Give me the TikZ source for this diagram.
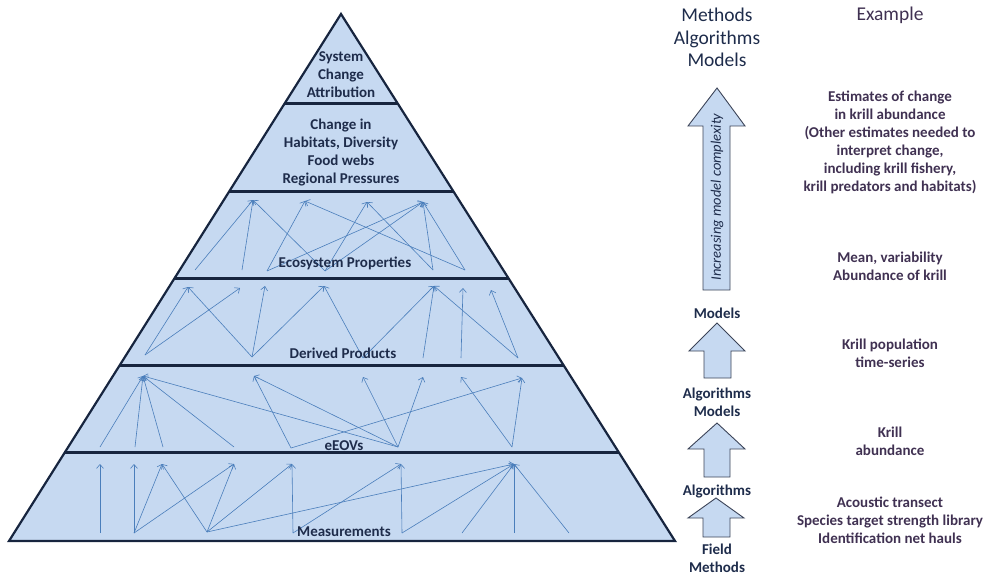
\documentclass[tikz,border=0pt]{standalone}
\usepackage{fontspec}
\setmainfont{Carlito}
\usetikzlibrary{arrows.meta,calc}
\definecolor{layerfill}{RGB}{198,217,241}
\definecolor{edgenavy}{RGB}{23,37,63}
\definecolor{flowblue}{RGB}{74,126,187}
\definecolor{labelnavy}{RGB}{30,44,75}
\definecolor{examplepurple}{RGB}{64,49,82}
\definecolor{arrowedge}{RGB}{60,68,88}

\begin{document}
\begin{tikzpicture}[x=1pt,y=-1pt,
  flow/.style={draw=flowblue,line width=0.6pt,-{Straight Barb[length=4pt,width=7pt]}},
  tierlabel/.style={text=labelnavy,font=\fontsize{15}{18}\selectfont\bfseries,align=center,inner sep=0pt},
  methodlabel/.style={text=labelnavy,font=\fontsize{15}{18}\selectfont\bfseries,align=center,inner sep=0pt},
  examplelabel/.style={text=examplepurple,font=\fontsize{15}{18}\selectfont\bfseries,align=center,inner sep=0pt},
  heading/.style={font=\fontsize{19.5}{22.5}\selectfont,align=center,inner sep=0pt},
  blockarrow/.style={fill=layerfill,draw=arrowedge,line width=0.9pt,line join=miter},
  separator/.style={draw=edgenavy,line width=3pt}
]
\useasboundingbox (0,0) rectangle (988,575);

% ---------- pyramid ----------
\coordinate (apex) at (341,14);
\coordinate (bl) at (9,541);
\coordinate (br) at (675,541);
\fill[layerfill] (apex) -- (bl) -- (br) -- cycle;

\foreach \f [count=\i] in {0.1689,0.3359,0.5010,0.6679,0.8330}{
  \coordinate (sl\i) at ($(apex)!\f!(bl)$);
  \coordinate (sr\i) at ($(apex)!\f!(br)$);
}

% ---------- Ecosystem Properties links ----------
\foreach \n/\x/\y in {1/253/200,2/305/201,3/367/202,4/423/202}
  \coordinate (pt\n) at (\x,\y);
\foreach \n/\x/\y in {1/195/270,2/242/270,3/267/271,4/325/271,5/433/270,6/465/270}
  \coordinate (pb\n) at (\x,\y);
\foreach \b/\t in {1/1,2/1,4/1,3/2,6/2,4/3,5/3,3/4,4/4,5/4,6/4}
  \draw[flow] (pb\b) -- (pt\t);

% ---------- Derived Products links ----------
\foreach \n/\x/\y in {1/188/287,2/240/288,3/265/286,4/324/286,5/434/286,6/463/288,7/491/290}
  \coordinate (dt\n) at (\x,\y);
\foreach \n/\x/\y in {1/145/355,2/252/357,3/363/358,4/423/358,5/461/358,6/518/358}
  \coordinate (db\n) at (\x,\y);
\foreach \b/\t in {1/1,1/2,2/1,2/3,2/4,3/4,3/5,4/5,5/6,6/5,6/7}
  \draw[flow] (db\b) -- (dt\t);

% ---------- eEOV links ----------
\foreach \n/\x/\y in {1/143/376,2/254/376,3/363/377,4/423/377,5/461/377,6/522/378}
  \coordinate (vt\n) at (\x,\y);
\foreach \n/\x/\y in {1/100/447,2/135/447,3/163/447,4/234/447,5/291/448,6/398/447,7/512/447}
  \coordinate (vb\n) at (\x,\y);
\foreach \b/\t in {1/1,2/1,3/1,4/1,6/1,5/2,6/2,5/6,6/3,6/4,7/5,7/6}
  \draw[flow] (vb\b) -- (vt\t);

% ---------- Measurement links ----------
\foreach \n/\x/\y in {1/100/464,2/134/464,3/162/464,4/234/464,5/292/464,6/401/464,7/514/464}
  \coordinate (mt\n) at (\x,\y);
\foreach \n/\x/\y in {1/100/533,2/134/533,3/207/532,4/293/533,5/402/533,6/462/533,7/514/533,8/569/533}
  \coordinate (mb\n) at (\x,\y);
\foreach \b/\t in {1/1,2/2,2/3,2/4,3/3,3/4,3/5,3/7,4/5,4/6,5/6,5/7,6/7,7/7,8/7}
  \draw[flow] (mb\b) -- (mt\t);

% tier separators and outline
\foreach \i in {1,...,5}
  \draw[separator] (sl\i) -- (sr\i);
\draw[draw=edgenavy,line width=2.2pt,line join=miter] (apex) -- (bl) -- (br) -- cycle;

% tier labels
\node[tierlabel] (sca) at (341,75) {System\\Change\\Attribution};
\node[tierlabel] (chg) at (341,153) {Change in\\Habitats, Diversity\\Food webs\\Regional Pressures};
\node[tierlabel] (eco) at (345,263) {Ecosystem Properties};
\node[tierlabel] (der) at (343,353) {Derived Products};
\node[tierlabel] (eov) at (344,446) {eEOVs};
\node[tierlabel] (mea) at (344,532) {Measurements};

% ---------- right-hand columns ----------
\node[heading,text=labelnavy] (mhead) at (717,37.5) {Methods\\Algorithms\\Models};
\node[heading,text=examplepurple] (ehead) at (890,15) {Example};

% complexity arrow
\draw[blockarrow] (717,88) -- (745,126) -- (730,126) -- (730,290) -- (703,290) -- (703,126) -- (688,126) -- cycle;
\node[rotate=90,text=labelnavy,font=\fontsize{14.5}{17}\selectfont\itshape,inner sep=0pt] (cplx) at (717,197) {Increasing model complexity};

\node[methodlabel] (mod) at (717,313) {Models};
\node[methodlabel] (algmod) at (717,402) {Algorithms\\Models};
\node[methodlabel] (alg) at (717,492) {Algorithms};
\node[methodlabel] (field) at (717,558) {Field\\Methods};

\draw[blockarrow] (717,323) -- (745,351) -- (731,351) -- (731,378) -- (704,378) -- (704,351) -- (689,351) -- cycle;
\draw[blockarrow] (717,423) -- (745,449) -- (730,449) -- (730,477) -- (704,477) -- (704,449) -- (688,449) -- cycle;
\draw[blockarrow] (716,498) -- (744,518) -- (730,518) -- (730,537) -- (703,537) -- (703,518) -- (688,518) -- cycle;

\node[examplelabel] (ex1) at (890,142) {Estimates of change\\in krill abundance\\(Other estimates needed to\\interpret change,\\including krill fishery,\\krill predators and habitats)};
\node[examplelabel] (ex2) at (890,266.5) {Mean, variability\\Abundance of krill};
\node[examplelabel] (ex3) at (890,353.5) {Krill population\\time-series};
\node[examplelabel] (ex4) at (890,441.5) {Krill\\abundance};
\node[examplelabel] (ex5) at (890,520) {Acoustic transect\\Species target strength library\\Identification net hauls};
\end{tikzpicture}
\end{document}
